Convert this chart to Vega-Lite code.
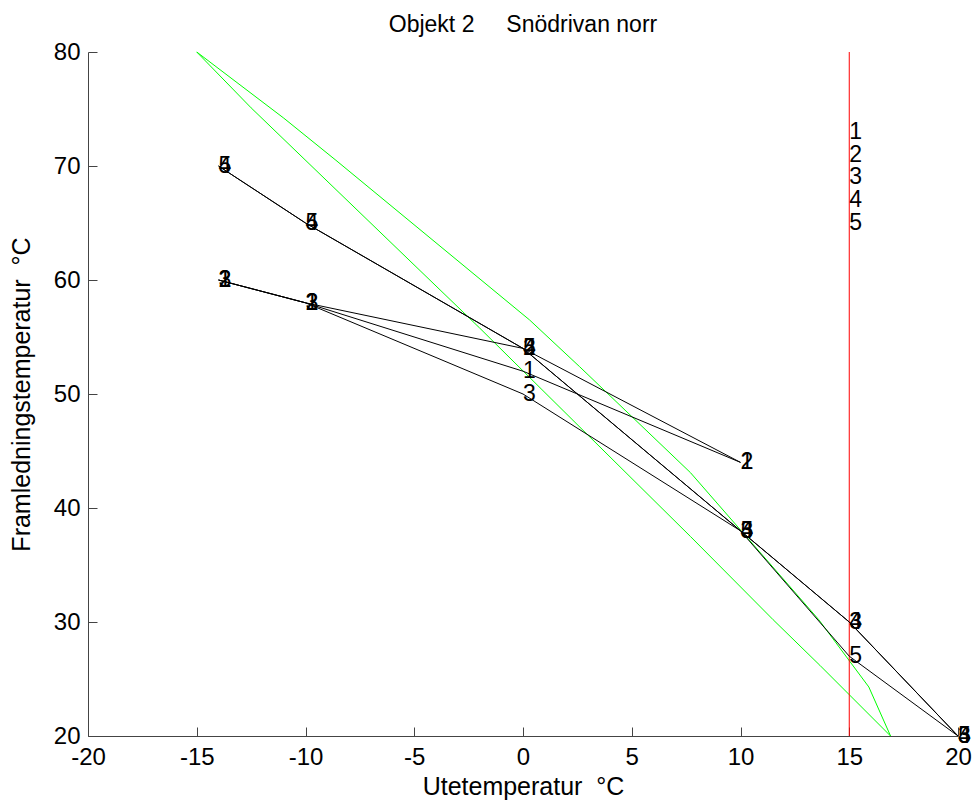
{
  "$schema": "https://vega.github.io/schema/vega-lite/v6.json",
  "width": 870,
  "height": 684,
  "autosize": {"type": "none"},
  "padding": {"left": 88, "top": 52, "right": 17, "bottom": 71},
  "background": "white",
  "config": {
    "font": "Liberation Sans",
    "view": {"stroke": null},
    "axis": {"grid": false, "domainColor": "#444444", "tickColor": "#444444", "labelColor": "black", "titleColor": "black", "labelFontSize": 24, "titleFontSize": 25, "titleFontWeight": "normal", "labelFlush": false, "labelOverlap": false, "tickSize": -9, "domainWidth": 1, "tickWidth": 1, "labelExpr": "replace(datum.label, '\u2212', '-')"}
  },
  "title": {"text": "Objekt 2\u00a0\u00a0\u00a0\u00a0\u00a0Snödrivan norr", "fontSize": 23, "fontWeight": "normal", "color": "black", "anchor": "middle", "offset": 3},
  "datasets": {
    "green": [
      {"g": "a", "x": -15, "y": 80}, {"g": "a", "x": -11.0, "y": 74.2}, {"g": "a", "x": -8.6, "y": 70.5}, {"g": "a", "x": 0.3, "y": 56.5}, {"g": "a", "x": 2.6, "y": 52.4}, {"g": "a", "x": 7.7, "y": 43.1}, {"g": "a", "x": 13.6, "y": 30.2}, {"g": "a", "x": 15.9, "y": 24.3}, {"g": "a", "x": 16.9, "y": 20},
      {"g": "b", "x": -15, "y": 80}, {"g": "b", "x": -12.5, "y": 75.1}, {"g": "b", "x": -2, "y": 55.8}, {"g": "b", "x": 7.7, "y": 37.5}, {"g": "b", "x": 11.5, "y": 30.2}, {"g": "b", "x": 13.65, "y": 26.2}, {"g": "b", "x": 16.9, "y": 20}
    ],
    "curves": [
      {"s": "1", "x": -14, "y": 60}, {"s": "1", "x": -10, "y": 58}, {"s": "1", "x": 0, "y": 52}, {"s": "1", "x": 10, "y": 44},
      {"s": "2", "x": -14, "y": 60}, {"s": "2", "x": -10, "y": 58}, {"s": "2", "x": 0, "y": 54}, {"s": "2", "x": 10, "y": 44},
      {"s": "3", "x": -14, "y": 60}, {"s": "3", "x": -10, "y": 58}, {"s": "3", "x": 0, "y": 50}, {"s": "3", "x": 10, "y": 38}, {"s": "3", "x": 15, "y": 30}, {"s": "3", "x": 20, "y": 20},
      {"s": "4", "x": -14, "y": 70}, {"s": "4", "x": -10, "y": 65}, {"s": "4", "x": 0, "y": 54}, {"s": "4", "x": 10, "y": 38}, {"s": "4", "x": 15, "y": 30}, {"s": "4", "x": 20, "y": 20},
      {"s": "5", "x": -14, "y": 70}, {"s": "5", "x": -10, "y": 65}, {"s": "5", "x": 0, "y": 54}, {"s": "5", "x": 10, "y": 38}, {"s": "5", "x": 15, "y": 27}, {"s": "5", "x": 20, "y": 20}
    ],
    "keys": [
      {"s": "1", "x": 15, "y": 73}, {"s": "2", "x": 15, "y": 71}, {"s": "3", "x": 15, "y": 69}, {"s": "4", "x": 15, "y": 67}, {"s": "5", "x": 15, "y": 65}
    ],
    "vline": [{"x": 15}]
  },
  "layer": [
    {
      "data": {"name": "green"},
      "mark": {"type": "line", "color": "#00ff00", "strokeWidth": 1},
      "encoding": {
        "x": {"field": "x", "type": "quantitative", "scale": {"domain": [-20, 20], "nice": false, "zero": false}, "axis": {"values": [-20, -15, -10, -5, 0, 5, 10, 15, 20], "title": "Utetemperatur\u00a0\u00a0°C", "titlePadding": 5, "labelPadding": 18}},
        "y": {"field": "y", "type": "quantitative", "scale": {"domain": [20, 80], "nice": false, "zero": false}, "axis": {"values": [20, 30, 40, 50, 60, 70, 80], "title": "Framledningstemperatur\u00a0\u00a0°C", "titlePadding": 19, "labelPadding": 17}},
        "detail": {"field": "g"},
        "order": {"field": "x", "type": "quantitative"}
      }
    },
    {
      "data": {"name": "vline"},
      "mark": {"type": "rule", "color": "#ff0000", "strokeWidth": 1},
      "encoding": {"x": {"field": "x", "type": "quantitative"}}
    },
    {
      "data": {"name": "curves"},
      "mark": {"type": "line", "color": "black", "strokeWidth": 1},
      "encoding": {
        "x": {"field": "x", "type": "quantitative"},
        "y": {"field": "y", "type": "quantitative"},
        "detail": {"field": "s"},
        "order": {"field": "x", "type": "quantitative"}
      }
    },
    {
      "data": {"name": "curves"},
      "mark": {"type": "text", "color": "black", "fontSize": 23, "align": "left", "baseline": "middle"},
      "encoding": {
        "x": {"field": "x", "type": "quantitative"},
        "y": {"field": "y", "type": "quantitative"},
        "text": {"field": "s"}
      }
    },
    {
      "data": {"name": "keys"},
      "mark": {"type": "text", "color": "black", "fontSize": 23, "align": "left", "baseline": "middle"},
      "encoding": {
        "x": {"field": "x", "type": "quantitative"},
        "y": {"field": "y", "type": "quantitative"},
        "text": {"field": "s"}
      }
    }
  ]
}
